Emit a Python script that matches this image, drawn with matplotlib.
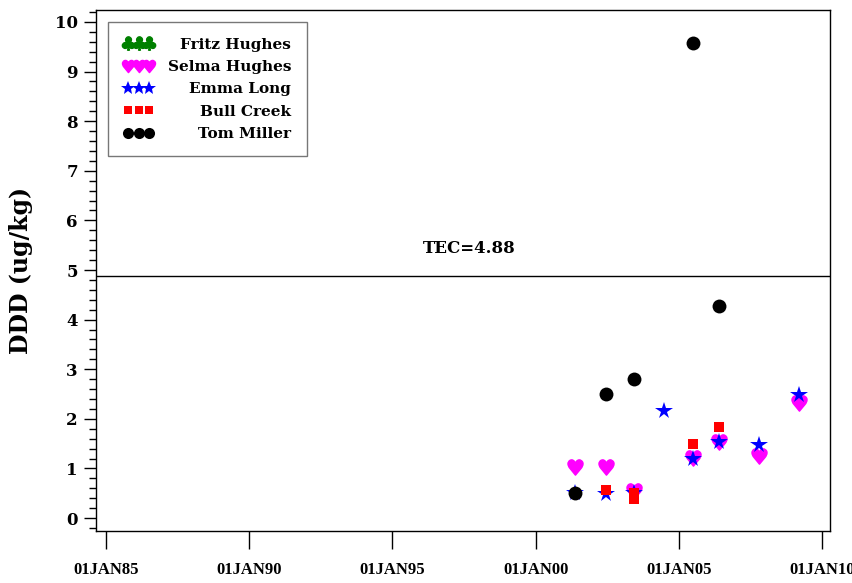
import matplotlib
matplotlib.use("Agg")
import matplotlib.pyplot as plt
from matplotlib.ticker import MultipleLocator, FixedLocator

plt.rcParams['font.family'] = ['DejaVu Serif']
plt.rcParams['font.weight'] = 'bold'
plt.rcParams['mathtext.fontset'] = 'dejavusans'

DPI = 100

# ---- data (decimal years, ug/kg) ----
fritz_x = []
fritz_y = []
selma_x = [2001.38, 2002.46, 2003.44, 2005.50, 2006.41, 2007.80, 2009.20]
selma_y = [1.03, 1.03, 0.54, 1.22, 1.54, 1.25, 2.32]
emma_x = [2001.38, 2002.46, 2003.44, 2004.48, 2005.50, 2006.41, 2007.80, 2009.20]
emma_y = [0.50, 0.49, 0.50, 2.16, 1.19, 1.53, 1.47, 2.48]
bull_x = [2002.46, 2003.44, 2003.44, 2005.50, 2006.41]
bull_y = [0.56, 0.50, 0.38, 1.50, 1.83]
tom_x = [2001.38, 2002.46, 2003.44, 2005.50, 2006.41]
tom_y = [0.50, 2.50, 2.80, 9.58, 4.27]

tec_value = 4.88
tec_label = "TEC=4.88"
xtick_years = [1985, 1990, 1995, 2000, 2005, 2010]
xtick_labels = ["01JAN85", "01JAN90", "01JAN95", "01JAN00", "01JAN05", "01JAN10"]
ylabel = "DDD (ug/kg)"

fig = plt.figure(figsize=(8.53, 5.83), dpi=DPI)
ax = fig.add_axes([96/853, 1-531/583, (830-96)/853, (531-10)/583])

ax.plot(fritz_x, fritz_y, linestyle='none', marker='$♣$', color='#008000', ms=12, label='Fritz Hughes')
ax.plot(selma_x, selma_y, linestyle='none', marker='$♥$', color='#ff00ff', ms=11, label='Selma Hughes')
ax.plot(emma_x, emma_y, linestyle='none', marker='*', color='#0000ff', ms=13, mew=0, label='Emma Long')
ax.plot(bull_x, bull_y, linestyle='none', marker='s', color='#ff0000', ms=7, mew=0, label='Bull Creek')
ax.plot(tom_x, tom_y, linestyle='none', marker='o', color='black', ms=10, mew=0, label='Tom Miller')

ax.axhline(tec_value, color='black', lw=1)
ax.text(1997.7, 5.44, tec_label, ha='center', va='center', fontsize=12, fontweight='bold')

ax.set_xlim(1984.65, 2010.28)
ax.set_ylim(-0.26, 10.24)
ax.xaxis.set_major_locator(FixedLocator(xtick_years))
ax.set_xticklabels(xtick_labels, family=['Liberation Serif'], fontsize=12, fontweight='bold')
ax.yaxis.set_major_locator(MultipleLocator(1))
ax.yaxis.set_minor_locator(MultipleLocator(0.2))
ax.tick_params(axis='x', direction='out', length=13, width=1, pad=9)
ax.tick_params(axis='y', which='major', direction='out', length=9, width=1, labelsize=12, pad=4)
ax.tick_params(axis='y', which='minor', direction='out', length=5, width=1)
for s in ax.spines.values():
    s.set_linewidth(1)
ax.set_ylabel(ylabel, fontsize=17, fontweight='bold', labelpad=16)

leg = ax.legend(loc='upper left', numpoints=3, fontsize=11, frameon=True, fancybox=False,
                edgecolor='#555555', borderaxespad=0.8, handlelength=2.0, handletextpad=0.9,
                labelspacing=0.55, markerscale=0.8, borderpad=1.0)
leg.get_frame().set_linewidth(1)
fig.canvas.draw()
r = fig.canvas.get_renderer()
texts = leg.get_texts()
widths = [t.get_window_extent(r).width for t in texts]
w = max(widths)
for t, wt in zip(texts, widths):
    t.set_position((w - wt, 0))

fig.savefig('out.png', dpi=DPI)
